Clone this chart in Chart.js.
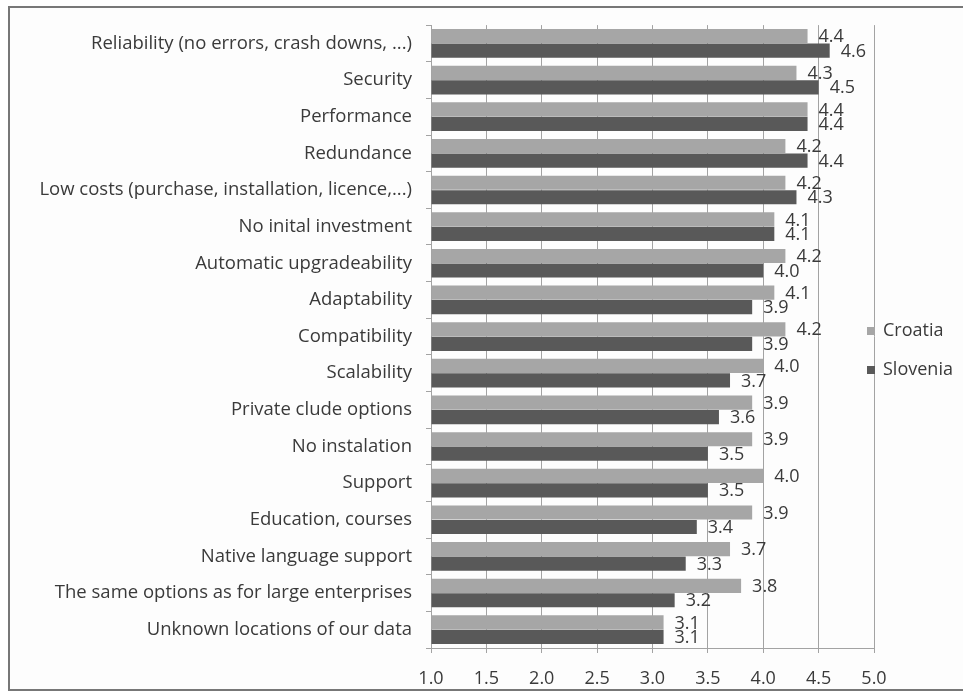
<!DOCTYPE html>
<html>
<head>
<meta charset="utf-8">
<script src="https://cdn.jsdelivr.net/npm/chart.js@4.4.1/dist/chart.umd.min.js"></script>
<style>
  html, body { margin: 0; padding: 0; background: #fff; overflow: hidden; }
  .frame {
    position: absolute; left: 8px; top: 6px; width: 1000px; height: 685px;
    border: 2px solid #777; box-sizing: border-box; background: #fdfdfd;
  }
  #chart { position: absolute; left: 0; top: 0; }
</style>
</head>
<body>
<div class="frame"></div>
<canvas id="chart" width="963" height="691"></canvas>
<script>
const categories = [
    "Reliability (no errors, crash downs, ...)",
    "Security",
    "Performance",
    "Redundance",
    "Low costs (purchase, installation, licence,...)",
    "No inital investment",
    "Automatic upgradeability",
    "Adaptability",
    "Compatibility",
    "Scalability",
    "Private clude options",
    "No instalation",
    "Support",
    "Education, courses",
    "Native language support",
    "The same options as for large enterprises",
    "Unknown locations of our data",
];
const croatia  = [4.4, 4.3, 4.4, 4.2, 4.2, 4.1, 4.2, 4.1, 4.2, 4.0, 3.9, 3.9, 4.0, 3.9, 3.7, 3.8, 3.1];
const slovenia = [4.6, 4.5, 4.4, 4.4, 4.3, 4.1, 4.0, 3.9, 3.9, 3.7, 3.6, 3.5, 3.5, 3.4, 3.3, 3.2, 3.1];
const seriesNames = ["Croatia", "Slovenia"];
const seriesColors = ['#a6a6a6', '#595959'];
const xTicks = [1.0, 1.5, 2.0, 2.5, 3.0, 3.5, 4.0, 4.5, 5.0];

const FONT = "'Open Sans', 'Noto Sans', sans-serif";
const TEXT = '#3a3a3a';
const GRID = '#a3a3a3';

// value next to the end of every bar
const valueLabels = {
    id: 'valueLabels',
    afterDatasetsDraw(chart) {
        const ctx = chart.ctx;
        ctx.save();
        ctx.font = `18px ${FONT}`;
        ctx.fillStyle = TEXT;
        ctx.textAlign = 'left';
        ctx.textBaseline = 'middle';
        chart.data.datasets.forEach((ds, i) => {
            chart.getDatasetMeta(i).data.forEach((bar, j) => {
                ctx.fillText(ds.data[j].toFixed(1), bar.x + 11, bar.y + 1);
            });
        });
        ctx.restore();
    }
};

// legend stacked to the right of the plot
const sideLegend = {
    id: 'sideLegend',
    afterDraw(chart) {
        const ctx = chart.ctx;
        const x = chart.chartArea.right - 7;
        ctx.save();
        ctx.font = `18px ${FONT}`;
        ctx.textBaseline = 'middle';
        chart.data.datasets.forEach((ds, i) => {
            const y = 331 + i * 39;
            ctx.fillStyle = ds.backgroundColor;
            ctx.fillRect(x, y - 4, 8, 8);
            ctx.fillStyle = TEXT;
            ctx.fillText(ds.label, x + 16, y);
        });
        ctx.restore();
    }
};

new Chart(document.getElementById('chart'), {
    type: 'bar',
    data: {
        labels: categories,
        datasets: [
            { label: seriesNames[0], data: croatia,  backgroundColor: seriesColors[0] },
            { label: seriesNames[1], data: slovenia, backgroundColor: seriesColors[1] },
        ],
    },
    options: {
        indexAxis: 'y',
        responsive: false,
        animation: false,
        events: [],
        datasets: { bar: { categoryPercentage: 0.79, barPercentage: 0.98, base: 1 } },
        layout: { padding: { left: 0, top: 19, right: 89, bottom: 0 } },
        plugins: { legend: { display: false }, tooltip: { enabled: false } },
        scales: {
            x: {
                min: 1, max: 5,
                afterBuildTicks: (scale) => { scale.ticks = xTicks.map(v => ({ value: v })); },
                afterFit: (scale) => { scale.height = 43; },
                grid: { color: GRID, tickLength: 5 },
                border: { color: GRID },
                ticks: {
                    padding: 15,
                    color: TEXT,
                    font: { family: FONT, size: 18 },
                    callback: (v) => Number(v).toFixed(1),
                },
            },
            y: {
                afterFit: (scale) => { scale.width = 431; },
                grid: { drawOnChartArea: false, color: GRID, tickLength: 5 },
                border: { color: GRID },
                ticks: { padding: 14, color: TEXT, font: { family: FONT, size: 18.5 } },
            },
        },
    },
    plugins: [valueLabels, sideLegend],
});
</script>
</body>
</html>
